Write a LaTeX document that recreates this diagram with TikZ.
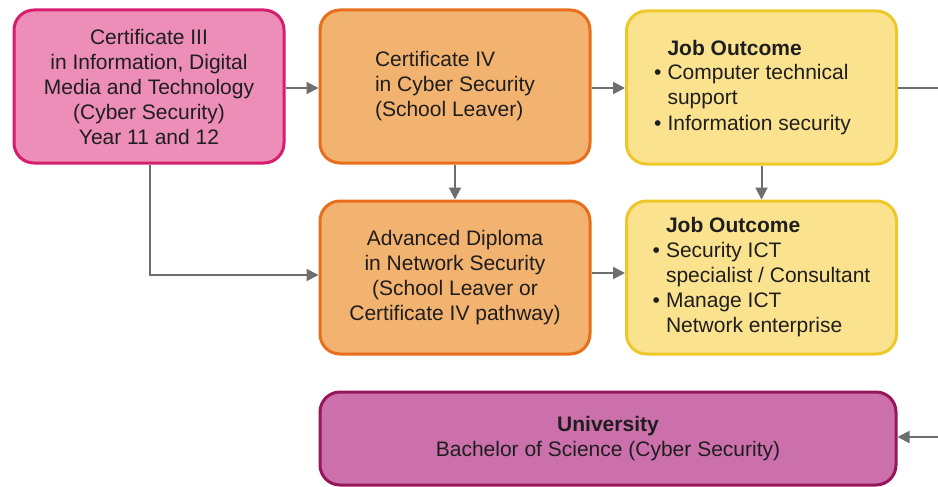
\documentclass[tikz,border=0pt]{standalone}
\usepackage{fontspec}
\setmainfont{Liberation Sans}
\usetikzlibrary{arrows.meta}
\definecolor{pinkfill}{RGB}{236,142,184}
\definecolor{pinkline}{RGB}{214,30,112}
\definecolor{orangefill}{RGB}{242,178,112}
\definecolor{orangeline}{RGB}{232,110,28}
\definecolor{yellowfill}{RGB}{250,226,142}
\definecolor{yellowline}{RGB}{238,200,40}
\definecolor{purplefill}{RGB}{204,112,172}
\definecolor{purpleline}{RGB}{150,22,92}
\definecolor{arrowgray}{RGB}{110,110,110}
\definecolor{textdark}{RGB}{30,30,30}
\tikzset{
  box/.style={rounded corners=20pt, line width=3pt, inner sep=0pt,
    minimum width=270pt, minimum height=153pt, text=textdark,
    font=\fontsize{21}{25}\selectfont},
  pinkbox/.style={box, draw=pinkline, fill=pinkfill},
  orangebox/.style={box, draw=orangeline, fill=orangefill},
  yellowbox/.style={box, draw=yellowline, fill=yellowfill},
  purplebox/.style={box, draw=purpleline, fill=purplefill, minimum width=576pt, minimum height=93pt},
  conn/.style={draw=arrowgray, line width=2pt, -{Triangle[length=12pt,width=12pt]}},
  plainconn/.style={draw=arrowgray, line width=2pt}
}
\begin{document}
\begin{tikzpicture}[x=1pt,y=-1pt]
\useasboundingbox (0,0) rectangle (938,487);
\fill[white] (0,0) rectangle (938,487);

\node[pinkbox, align=center] (a) at (149,86.5) {Certificate III\\in Information, Digital\\Media and Technology\\(Cyber Security)\\Year 11 and 12};
\node[orangebox, align=left] (b) at (455,86.5) {Certificate IV\\in Cyber Security\\(School Leaver)};
\node[yellowbox] (c) at (761.5,87.5) {\fontsize{21}{25}\selectfont\begin{tabular}{@{}l@{\hspace{6pt}}l@{}}
 & \textbf{Job Outcome}\\
\textbullet & Computer technical\\
 & support\\
\textbullet & Information security
\end{tabular}\rule{18pt}{0pt}};
\node[orangebox, align=center] (d) at (455,277.5) {Advanced Diploma\\in Network Security\\(School Leaver or\\Certificate IV pathway)};
\node[yellowbox] (e) at (761.5,277.5) {\fontsize{21}{25}\selectfont\begin{tabular}{@{}l@{\hspace{6pt}}l@{}}
 & \textbf{Job Outcome}\\
\textbullet & Security ICT\\
 & specialist / Consultant\\
\textbullet & Manage ICT\\
 & Network enterprise
\end{tabular}};
\node[purplebox, align=center] (f) at (608,438.5) {\textbf{University}\\Bachelor of Science (Cyber Security)};

\coordinate (cout) at (938,88);
\coordinate (fin) at (938,437);

\draw[conn] (a.east |- 0,88) -- (b.west |- 0,88);
\draw[conn] (b.east |- 0,88) -- (c.west |- 0,88);
\draw[conn] (b.south) -- (d.north);
\draw[conn] (c.south) -- (e.north);
\draw[conn] (a.south -| 150,0) |- (d.west |- 0,275);
\draw[conn] (d.east |- 0,273) -- (e.west |- 0,273);
\draw[plainconn] (c.east |- 0,88) -- (cout);
\draw[conn] (fin) -- (f.east |- fin);
\end{tikzpicture}
\end{document}
